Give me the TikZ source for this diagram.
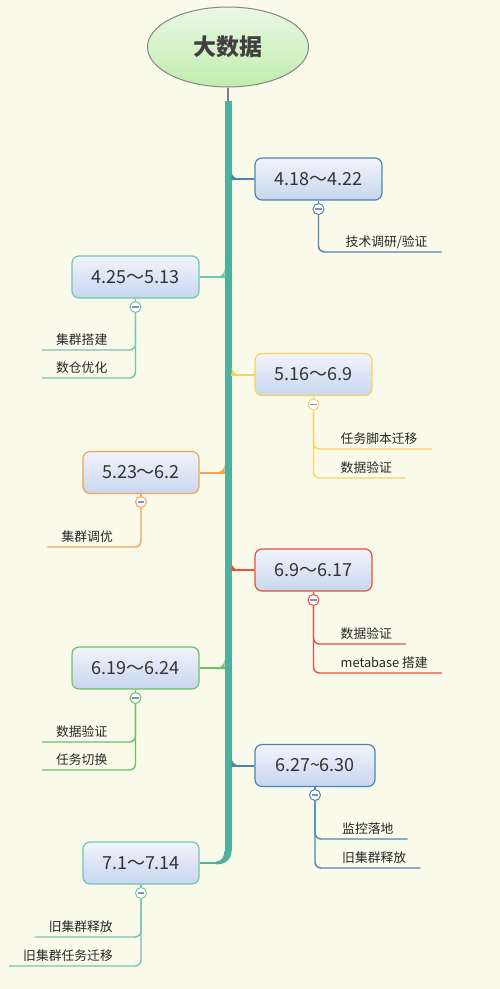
\documentclass[tikz,border=0pt]{standalone}
\usepackage{fontspec}
\setmainfont{Noto Sans CJK SC}
\usetikzlibrary{shapes.geometric}
\definecolor{bg}{HTML}{FAFAEA}
\definecolor{trunkc}{HTML}{4FB09B}
\definecolor{cblue}{HTML}{4A86AE}
\definecolor{cteal}{HTML}{70C6B2}
\definecolor{cyellow}{HTML}{F6D55C}
\definecolor{corange}{HTML}{F2A155}
\definecolor{cred}{HTML}{E8503F}
\definecolor{cgreen}{HTML}{6DBF6A}
\definecolor{topfill}{HTML}{F1F4FB}
\definecolor{botfill}{HTML}{C7D6EF}
\definecolor{rtop}{HTML}{EBF8E5}
\definecolor{rbot}{HTML}{C0EDAD}
\definecolor{txt}{HTML}{333333}
\definecolor{mcol}{HTML}{8A8FC0}
\newcommand\filR[2]{\fill[#2] (231.5,{#1-8}) .. controls (231.5,{#1-3.6}) and (235.1,{#1}) .. (239.5,{#1}) -- (239.5,{#1+1}) -- (231.5,{#1+1}) -- cycle;}
\newcommand\filL[2]{\fill[#2] (224.5,{#1-8}) .. controls (224.5,{#1-3.6}) and (220.9,{#1}) .. (216.5,{#1}) -- (216.5,{#1+1}) -- (224.5,{#1+1}) -- cycle;}
\begin{document}
\begin{tikzpicture}[x=1pt,y=-1pt,
  topic/.style={draw=#1, line width=1.2pt, rounded corners=7pt, top color=topfill, bottom color=botfill, minimum height=42pt, inner sep=0pt, font=\fontsize{18}{21}\selectfont, text=txt},
  fold/.style={circle, draw=#1, fill=white, minimum size=11pt, inner sep=0pt, line width=1pt,
    path picture={\draw[mcol,line width=1.2pt] ([xshift=-3.2pt]path picture bounding box.center) -- ([xshift=3.2pt]path picture bounding box.center);}},
  leaf/.style={inner xsep=14pt, inner ysep=0pt, text height=10pt, text depth=5pt, font=\fontsize{12.8}{15}\selectfont, text=black!85},
  link/.style={draw=#1, line width=2pt},
  sub/.style={draw=#1, line width=1.4pt, rounded corners=6pt},
  stem/.style={draw=#1, line width=1.2pt}]
\fill[bg] (0,0) rectangle (500,989);
\useasboundingbox (0,0) rectangle (500,989);
% root
\node[ellipse, draw=black!48, line width=1pt, top color=rtop, bottom color=rbot, minimum width=161pt, minimum height=80pt, inner sep=0pt, font=\fontsize{23}{26}\selectfont\bfseries, text=black!75] (root) at (228,47) {大数据};
\coordinate (ttop) at (228,101);
\coordinate (tbot) at (228,851);
\draw[black!50, line width=1.5pt] (root.south) -- (ttop);
\draw[trunkc, line width=7pt] (ttop) -- (tbot);
\fill[trunkc] (224.5,851) -- (231.5,851) .. controls (231.5,859) and (226,864.4) .. (216,864.4) -- (216,861.6) .. controls (221,861.6) and (224.5,857) .. (224.5,851) -- cycle;
\coordinate (j8) at (216,863);

% topic nodes
\node[topic=cblue, minimum width=127pt] (n1) at (318.5,179) {4.18～4.22};
\node[topic=cteal, minimum width=127pt] (n2) at (135.5,277) {4.25～5.13};
\node[topic=cyellow, minimum width=117pt] (n3) at (313.5,374.5) {5.16～6.9};
\node[topic=corange, minimum width=116pt] (n4) at (141,472.5) {5.23～6.2};
\node[topic=cred, minimum width=117pt] (n5) at (313.5,570) {6.9～6.17};
\node[topic=cgreen, minimum width=127pt] (n6) at (135.5,668) {6.19～6.24};
\node[topic=cblue, minimum width=120pt] (n7) at (315,765.5) {6.27\symbol{126}6.30};
\node[topic=cteal, minimum width=116pt] (n8) at (141,863) {7.1～7.14};

% links to trunk
\filR{179}{cblue}   \coordinate (j1) at (231,179);
\filL{277}{cteal}   \coordinate (j2) at (225,277);
\filR{374.5}{cyellow} \coordinate (j3) at (231,374.5);
\filL{472.5}{corange} \coordinate (j4) at (225,472.5);
\filR{570}{cred}    \coordinate (j5) at (231,570);
\filL{668}{cgreen}  \coordinate (j6) at (225,668);
\filR{765.5}{cblue} \coordinate (j7) at (231,765.5);
\draw[link=cblue] (j1) -- (n1.west);
\draw[link=cteal] (j2) -- (n2.east);
\draw[link=cyellow] (j3) -- (n3.west);
\draw[link=corange] (j4) -- (n4.east);
\draw[link=cred] (j5) -- (n5.west);
\draw[link=cgreen] (j6) -- (n6.east);
\draw[link=cblue] (j7) -- (n7.west);
\draw[trunkc, line width=2.8pt] (j8) -- (n8.east);

% fold circles
\node[fold=cblue] (m1) at (318.5,209) {};
\node[fold=cteal] (m2) at (135.5,307) {};
\node[fold=cyellow] (m3) at (313.5,404.5) {};
\node[fold=corange] (m4) at (141,502) {};
\node[fold=cred] (m5) at (313.5,600) {};
\node[fold=cgreen] (m6) at (135.5,698) {};
\node[fold=cblue] (m7) at (315,795) {};
\node[fold=cteal] (m8) at (141,893) {};
\foreach \i/\c in {1/cblue,2/cteal,3/cyellow,4/corange,5/cred,6/cgreen,7/cblue,8/cteal}
  \draw[stem=\c] (n\i.south) -- (m\i.north);

% leaves
\node[leaf, anchor=south west] (c11) at (331.5,252) {技术调研/验证};
\draw[sub=cblue] (m1.south) |- (c11.south east);

\node[leaf, anchor=south east] (c21) at (121.5,350) {集群搭建};
\node[leaf, anchor=south east] (c22) at (121.5,378) {数仓优化};
\draw[sub=cteal] (m2.south) |- (c21.south west);
\draw[sub=cteal] (m2.south) |- (c22.south west);

\node[leaf, anchor=south west] (c31) at (326.5,449) {任务脚本迁移};
\node[leaf, anchor=south west] (c32) at (326.5,478) {数据验证};
\draw[sub=cyellow] (m3.south) |- (c31.south east);
\draw[sub=cyellow] (m3.south) |- (c32.south east);

\node[leaf, anchor=south east] (c41) at (127,547) {集群调优};
\draw[sub=corange] (m4.south) |- (c41.south west);

\node[leaf, anchor=south west] (c51) at (326.5,644) {数据验证};
\node[leaf, anchor=south west] (c52) at (326.5,673) {metabase 搭建};
\draw[sub=cred] (m5.south) |- (c51.south east);
\draw[sub=cred] (m5.south) |- (c52.south east);

\node[leaf, anchor=south west] (c71) at (328,839) {监控落地};
\node[leaf, anchor=south west] (c72) at (328,868) {旧集群释放};
\draw[sub=cblue] (m7.south) |- (c71.south east);
\draw[sub=cblue] (m7.south) |- (c72.south east);

\node[leaf, anchor=south east] (c61) at (121.5,742) {数据验证};
\node[leaf, anchor=south east] (c62) at (121.5,770) {任务切换};
\draw[sub=cgreen] (m6.south) |- (c61.south west);
\draw[sub=cgreen] (m6.south) |- (c62.south west);

\node[leaf, anchor=south east] (c81) at (127,937) {旧集群释放};
\node[leaf, anchor=south east] (c82) at (127,966) {旧集群任务迁移};
\draw[sub=cteal] (m8.south) |- (c81.south west);
\draw[sub=cteal] (m8.south) |- (c82.south west);
\end{tikzpicture}
\end{document}
